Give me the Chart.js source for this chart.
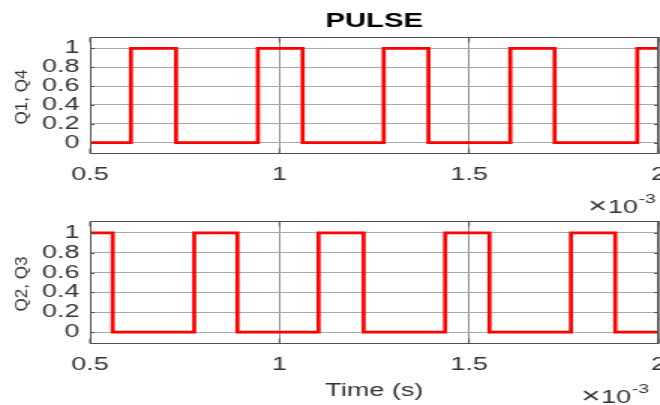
<!DOCTYPE html>
<html>
<head>
<meta charset="utf-8">
<title>PULSE</title>
<script src="https://cdn.jsdelivr.net/npm/chart.js@4.4.1/dist/chart.umd.min.js"></script>
<style>
  html, body { margin: 0; padding: 0; background: #fff; }
  #wrap { position: relative; width: 660px; height: 405px; overflow: hidden; }
  #wrap canvas { position: absolute; left: 0; top: 0; }
</style>
</head>
<body>
<div id="wrap">
  <!-- both panels are drawn 440 px wide and stretched to 660 px -->
  <canvas id="pulse-q14" width="440" height="405" style="width:660px;height:405px"></canvas>
  <canvas id="pulse-q23" width="440" height="405" style="width:660px;height:405px"></canvas>
</div>
<script>
'use strict';

// ── Data (time in ms, axis shows ×10^-3 s) ─────────────────
const TIME_TICKS = [0.5, 1, 1.5, 2];
const LEVEL_TICKS = [0, 0.2, 0.4, 0.6, 0.8, 1];

// switching instants and the level held from each instant on
const q14Time  = [0.5, 0.608, 0.727, 0.943, 1.061, 1.275, 1.393, 1.609, 1.726, 1.944, 2.0];
const q14Level = [0,   1,     0,     1,     0,     1,     0,     1,     0,     1,     1];

const q23Time  = [0.5, 0.560, 0.775, 0.889, 1.103, 1.222, 1.437, 1.554, 1.769, 1.886, 2.0];
const q23Level = [1,   0,     1,     0,     1,     0,     1,     0,     1,     0,     0];

// ── Look ───────────────────────────────────────────────────
const STRETCH = 1.5;
const FONT = "'Liberation Sans', Arial, Helvetica, sans-serif";
const BOX_COLOR = '#505050';
Chart.defaults.font.family = FONT;
Chart.defaults.color = '#333';

// box, inward tick marks, rotated y caption and the ×10^-3 multiplier
const pulseFrame = {
    id: 'pulseFrame',
    afterDraw(chart, args, opts) {
        const { ctx, chartArea: a, scales } = chart;
        const top = Math.round(a.top) + 0.5;
        const bottom = Math.round(a.bottom) - 0.5;

        ctx.save();
        ctx.strokeStyle = BOX_COLOR;
        ctx.lineWidth = 1;
        ctx.strokeRect(a.left + 0.5, top, a.right - a.left - 1, bottom - top);

        ctx.beginPath();
        TIME_TICKS.forEach(v => {
            const x = scales.x.getPixelForValue(v);
            ctx.moveTo(x, bottom); ctx.lineTo(x, bottom - 5);
            ctx.moveTo(x, top); ctx.lineTo(x, top + 5);
        });
        LEVEL_TICKS.forEach(v => {
            const y = Math.round(scales.y.getPixelForValue(v)) + 0.5;
            ctx.moveTo(a.left, y); ctx.lineTo(a.left + 3, y);
            ctx.moveTo(a.right, y); ctx.lineTo(a.right - 3, y);
        });
        ctx.stroke();
        ctx.restore();

        // y caption: squeezed so it keeps normal proportions once stretched
        ctx.save();
        ctx.fillStyle = '#333';
        ctx.font = `17px ${FONT}`;
        ctx.translate(opts.captionX, (a.top + a.bottom) / 2 + 1.5);
        ctx.scale(1 / STRETCH, 1);
        ctx.rotate(-Math.PI / 2);
        ctx.textAlign = 'center';
        ctx.textBaseline = 'middle';
        ctx.fillText(opts.caption, 0, 0);
        ctx.restore();

        // exponent under the right end of the time axis
        ctx.save();
        ctx.fillStyle = '#333';
        ctx.textAlign = 'left';
        ctx.textBaseline = 'alphabetic';
        let x = a.right - opts.expInset;
        const base = a.bottom + 58.5;
        ctx.font = `300 22px ${FONT}`;
        ctx.fillText('\u00d7', x, base);
        x += ctx.measureText('\u00d7').width + 0.5;
        ctx.font = `18px ${FONT}`;
        ctx.fillText('10', x, base);
        x += ctx.measureText('10').width + 0.3;
        ctx.font = `13px ${FONT}`;
        ctx.fillText('-3', x, base - 9.5);
        ctx.restore();
    },
};

function pulseChart(canvasId, times, levels, cfg) {
    const points = times.map((t, i) => ({ x: t, y: levels[i] }));
    return new Chart(document.getElementById(canvasId), {
        type: 'line',
        data: {
            datasets: [{
                data: points,
                stepped: 'before',
                borderColor: '#ff0000',
                borderWidth: 2.7,
                pointRadius: 0,
                fill: false,
            }],
        },
        plugins: [pulseFrame],
        options: {
            responsive: false,
            animation: false,
            events: [],
            layout: { padding: cfg.padding },
            plugins: {
                legend: { display: false },
                tooltip: { enabled: false },
                title: {
                    display: !!cfg.title,
                    text: cfg.title || '',
                    fullSize: false,
                    color: '#000',
                    font: { size: 19.5, weight: 'bold', lineHeight: 1.2 },
                    padding: { top: 10, bottom: 3.6 },
                },
                pulseFrame: { caption: cfg.caption, captionX: 15, expInset: cfg.expInset },
            },
            scales: {
                x: {
                    type: 'linear',
                    min: 0.5,
                    max: 2,
                    afterBuildTicks: s => { s.ticks = TIME_TICKS.map(v => ({ value: v })); },
                    afterFit: s => { s.height = cfg.xHeight; s.paddingLeft = 0; s.paddingRight = 0; },
                    ticks: {
                        padding: 10,
                        maxRotation: 0,
                        autoSkip: false,
                        font: { size: 18 },
                        callback: v => String(v),
                    },
                    grid: { color: '#8c8c8c', drawTicks: false },
                    border: { display: false },
                    title: {
                        display: !!cfg.xTitle,
                        text: cfg.xTitle || '',
                        color: '#333',
                        font: { size: 18, lineHeight: 1.2 },
                        padding: { top: 0, bottom: 3 },
                    },
                },
                y: {
                    type: 'linear',
                    min: -0.12,
                    max: 1.12,
                    afterBuildTicks: s => { s.ticks = LEVEL_TICKS.map(v => ({ value: v })); },
                    afterFit: s => { s.width = 60; s.paddingTop = 0; s.paddingBottom = 0; },
                    ticks: {
                        padding: 7,
                        autoSkip: false,
                        font: { size: 18 },
                        callback: v => String(v),
                    },
                    grid: { color: '#aaaaaa', drawTicks: false },
                    border: { display: false },
                },
            },
        },
    });
}

// ── Panels ─────────────────────────────────────────────────
pulseChart('pulse-q14', q14Time, q14Level, {
    title: 'PULSE',
    caption: 'Q1, Q4',
    padding: { top: 0, right: 1, bottom: 205, left: 0 },
    xHeight: 46,
    expInset: 47,
});

pulseChart('pulse-q23', q23Time, q23Level, {
    caption: 'Q2, Q3',
    xTitle: 'Time (s)',
    padding: { top: 221, right: 1, bottom: 0, left: 0 },
    xHeight: 61,
    expInset: 51.5,
});
</script>
</body>
</html>
